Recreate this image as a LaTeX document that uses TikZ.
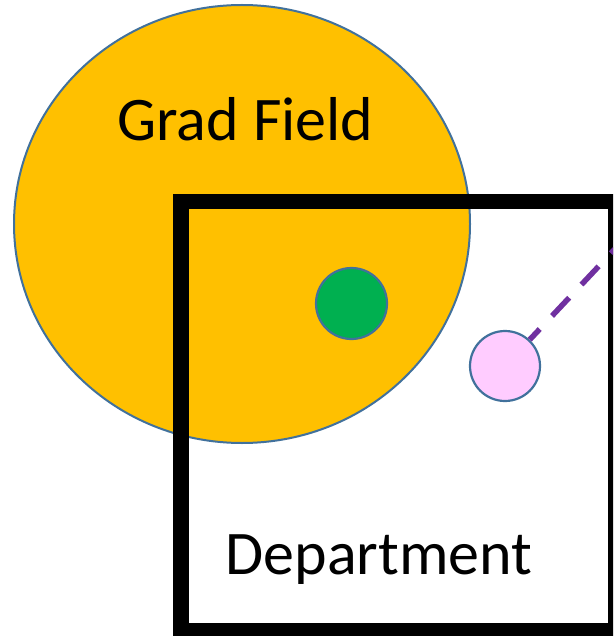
\documentclass[tikz,border=0pt]{standalone}
\usepackage{fontspec}
\setmainfont{Carlito}
\definecolor{gold}{HTML}{FFC000}
\definecolor{edge}{HTML}{41719C}
\definecolor{grn}{HTML}{00B050}
\definecolor{pnk}{HTML}{FFCCFF}
\definecolor{purp}{HTML}{7030A0}
\tikzset{
  dot/.style={circle, draw=edge, line width=2.2pt, minimum size=71pt, inner sep=0pt},
  lbl/.style={anchor=base, inner sep=0pt, font=\fontsize{62}{70}\selectfont},
  link/.style={draw=purp, line width=5.5pt, dash pattern=on 25pt off 18pt, dash phase=10.4pt}
}
\begin{document}
\begin{tikzpicture}[x=1pt,y=-1pt]
\useasboundingbox (0,0) rectangle (613,636);
\clip (0,0) rectangle (613,636);
\fill[white] (0,0) rectangle (613,636);
% Grad Field ellipse
\draw[fill=gold, draw=edge, line width=2pt] (242,224) ellipse [x radius=228, y radius=219];
\node[lbl] (gf) at (245.5,141) {Grad Field};
% Department box
\node[draw=black, line width=15.5pt, minimum width=434.5pt, minimum height=429.5pt, inner sep=0pt, outer sep=0pt] (dept) at (398.25,416.25) {};
\node[lbl] (dl) at (379,574) {Department};
% dots
\node[dot, fill=grn] (g) at (351.5,303.5) {};
\node[dot, fill=pnk, minimum size=70pt] (p) at (505,366) {};
\coordinate (far) at (660,201);
\draw[link] (p) -- (far);
\end{tikzpicture}
\end{document}
